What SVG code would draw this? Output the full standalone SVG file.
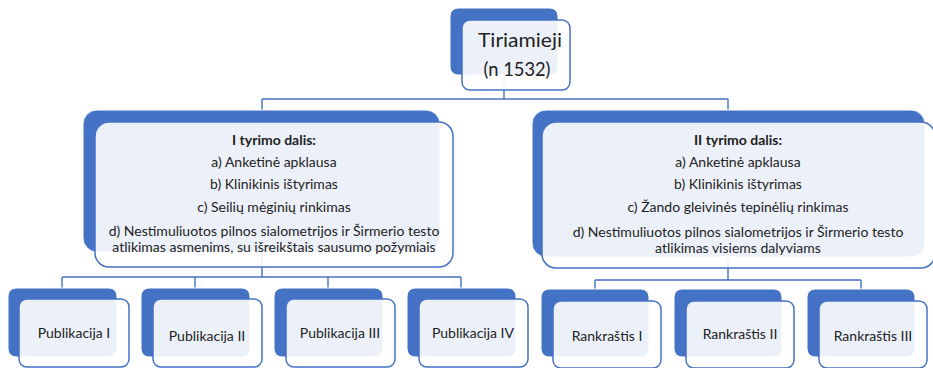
<svg xmlns="http://www.w3.org/2000/svg" width="933" height="368" viewBox="0 0 933 368">
<style>
.back{fill:#4472C4;stroke:#ffffff;stroke-width:1}
.front{fill:#ffffff;fill-opacity:0.9;stroke:#4472C4;stroke-width:1.5}
.conn{fill:none;stroke:#4472C4;stroke-width:1.4}
text{font-family:Lato,"Liberation Sans",sans-serif;fill:#222222;text-anchor:middle}
.t{font-size:14px}
.top{font-size:20px}
.b{font-weight:bold}
</style>
<rect width="933" height="368" fill="#ffffff"/>
<g id="connectors">
<path class="conn" d="M504 75V99M262 99H728M262 99V110M728 99V110"/>
<path class="conn" d="M262 252V277M62 277H461M62 277V288M195 277V288M328 277V288M461 277V288"/>
<path class="conn" d="M728 257V280M595 280H861M595 280V289M861 280V289"/>
</g>
<g id="root">
<rect class="back" x="450" y="8" width="108" height="67" rx="8"/>
<rect class="front" x="462" y="20" width="108" height="70" rx="8"/>
<text class="top" x="520" y="47" textLength="84" lengthAdjust="spacingAndGlyphs">Tiriamieji</text>
<text class="top" x="517" y="76" textLength="67" lengthAdjust="spacingAndGlyphs">(n 1532)</text>
</g>
<g id="part1">
<rect class="back" x="83" y="110" width="357" height="142" rx="14"/>
<rect class="front" x="95" y="122" width="358" height="145" rx="14"/>
<text class="t b" x="274" y="145">I tyrimo dalis:</text>
<text class="t" x="274" y="167">a) Anketinė apklausa</text>
<text class="t" x="274" y="189">b) Klinikinis ištyrimas</text>
<text class="t" x="274" y="212">c) Seilių mėginių rinkimas</text>
<text class="t" x="274" y="236">d) Nestimuliuotos pilnos sialometrijos ir Širmerio testo</text>
<text class="t" x="274" y="252">atlikimas asmenims, su išreikštais sausumo požymiais</text>
</g>
<g id="part2">
<rect class="back" x="532" y="110" width="393" height="147" rx="14"/>
<rect class="front" x="542" y="122" width="393" height="146" rx="14"/>
<text class="t b" x="738" y="145">II tyrimo dalis:</text>
<text class="t" x="738" y="167">a) Anketinė apklausa</text>
<text class="t" x="738" y="189">b) Klinikinis ištyrimas</text>
<text class="t" x="738" y="212">c) Žando gleivinės tepinėlių rinkimas</text>
<text class="t" x="738" y="237">d) Nestimuliuotos pilnos sialometrijos ir Širmerio testo</text>
<text class="t" x="738" y="253">atlikimas visiems dalyviams</text>
</g>
<g id="pub1">
<rect class="back" x="8" y="288" width="109" height="69" rx="8"/>
<rect class="front" x="19" y="299" width="110" height="68" rx="8"/>
<text class="t" x="74" y="338">Publikacija I</text>
</g>
<g id="pub2">
<rect class="back" x="141" y="288" width="109" height="69" rx="8"/>
<rect class="front" x="153" y="299" width="109" height="68" rx="8"/>
<text class="t" x="207" y="341">Publikacija II</text>
</g>
<g id="pub3">
<rect class="back" x="274" y="288" width="109" height="69" rx="8"/>
<rect class="front" x="286" y="299" width="109" height="68" rx="8"/>
<text class="t" x="340" y="338">Publikacija III</text>
</g>
<g id="pub4">
<rect class="back" x="407" y="288" width="109" height="69" rx="8"/>
<rect class="front" x="419" y="299" width="109" height="68" rx="8"/>
<text class="t" x="473" y="338">Publikacija IV</text>
</g>
<g id="rank1">
<rect class="back" x="541" y="289" width="108" height="68" rx="8"/>
<rect class="front" x="553" y="301" width="108" height="67" rx="8"/>
<text class="t" x="607" y="341">Rankraštis I</text>
</g>
<g id="rank2">
<rect class="back" x="674" y="289" width="108" height="68" rx="8"/>
<rect class="front" x="686" y="301" width="108" height="67" rx="8"/>
<text class="t" x="740" y="339">Rankraštis II</text>
</g>
<g id="rank3">
<rect class="back" x="807" y="289" width="108" height="68" rx="8"/>
<rect class="front" x="819" y="301" width="108" height="67" rx="8"/>
<text class="t" x="873" y="341">Rankraštis III</text>
</g>
</svg>
